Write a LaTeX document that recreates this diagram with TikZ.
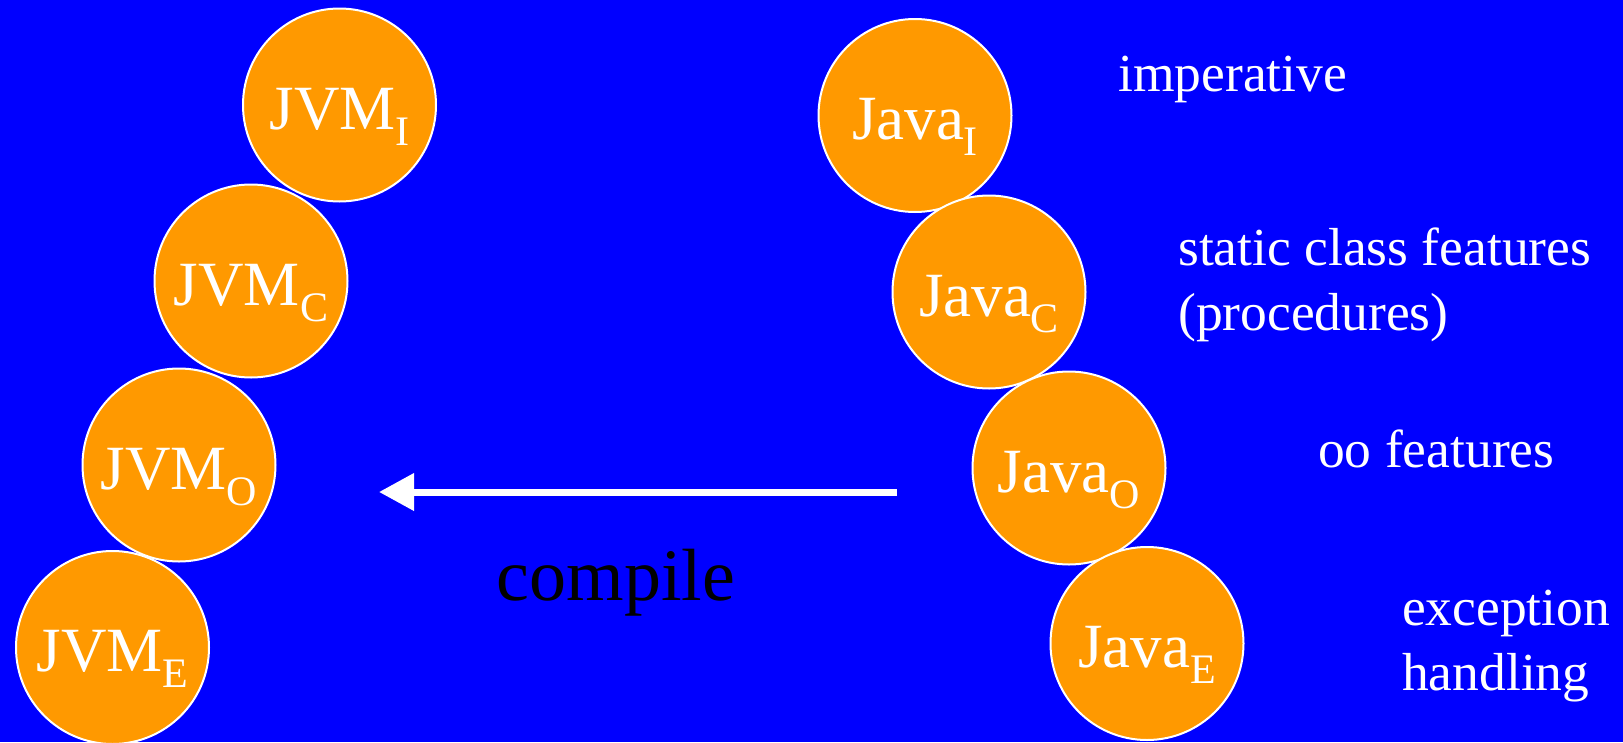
\documentclass[tikz,border=0pt]{standalone}
\usepackage{fontspec}
\setmainfont{Liberation Serif}
\usetikzlibrary{arrows.meta}

\definecolor{slideblue}{RGB}{0,0,255}
\definecolor{ballorange}{RGB}{255,153,0}

% lowered subscript in text mode
\newcommand{\lsub}[1]{\raisebox{-16pt}{\fontsize{42}{42}\selectfont #1}}

\tikzset{
  ball/.style={circle,draw=white,line width=2pt,fill=ballorange,text=white,
    minimum size=193pt,inner sep=0pt,text height=48pt,text depth=0pt,
    font=\fontsize{63}{63}\selectfont},
  level/.style={anchor=base west,inner sep=0pt,text=white,align=left,
    font=\fontsize{53.5}{65}\selectfont}
}

\begin{document}
\begin{tikzpicture}[x=1pt,y=-1pt]
	\fill[slideblue] (0,0) rectangle (1623,742);
	\useasboundingbox (0,0) rectangle (1623,742);

	% target side
	\node[ball] (jvmI) at (339.5,105) {JVM\lsub{I}};
	\node[ball] (jvmC) at (251,281) {JVM\lsub{C}};
	\node[ball] (jvmO) at (179,465) {JVM\lsub{O}};
	\node[ball] (jvmE) at (112.5,647.5) {JVM\lsub{E}};

	% source side
	\node[ball] (javaI) at (915,115.5) {Java\lsub{I}};
	\node[ball] (javaC) at (989,292) {Java\lsub{C}};
	\node[ball] (javaO) at (1069,468) {Java\lsub{O}};
	\node[ball] (javaE) at (1147,643.5) {Java\lsub{E}};

	% language levels (base = last line)
	\node[level] (imp) at (1118,91) {imperative};
	\node[level] (stat) at (1178,330) {static class features\\(procedures)};
	\node[level] (oo) at (1318,467) {oo features};
	\node[level] (exc) at (1402,690) {exception\\handling};

	% compiler arrow
	\coordinate (src) at (897,492);
	\coordinate (tgt) at (379,492);
	\draw[white,line width=7pt,-{Triangle[length=35pt,width=36pt]}] (src) -- (tgt);
	\node[font=\fontsize{74}{74}\selectfont,anchor=base] (comp) at (616,600) {compile};
\end{tikzpicture}
\end{document}
